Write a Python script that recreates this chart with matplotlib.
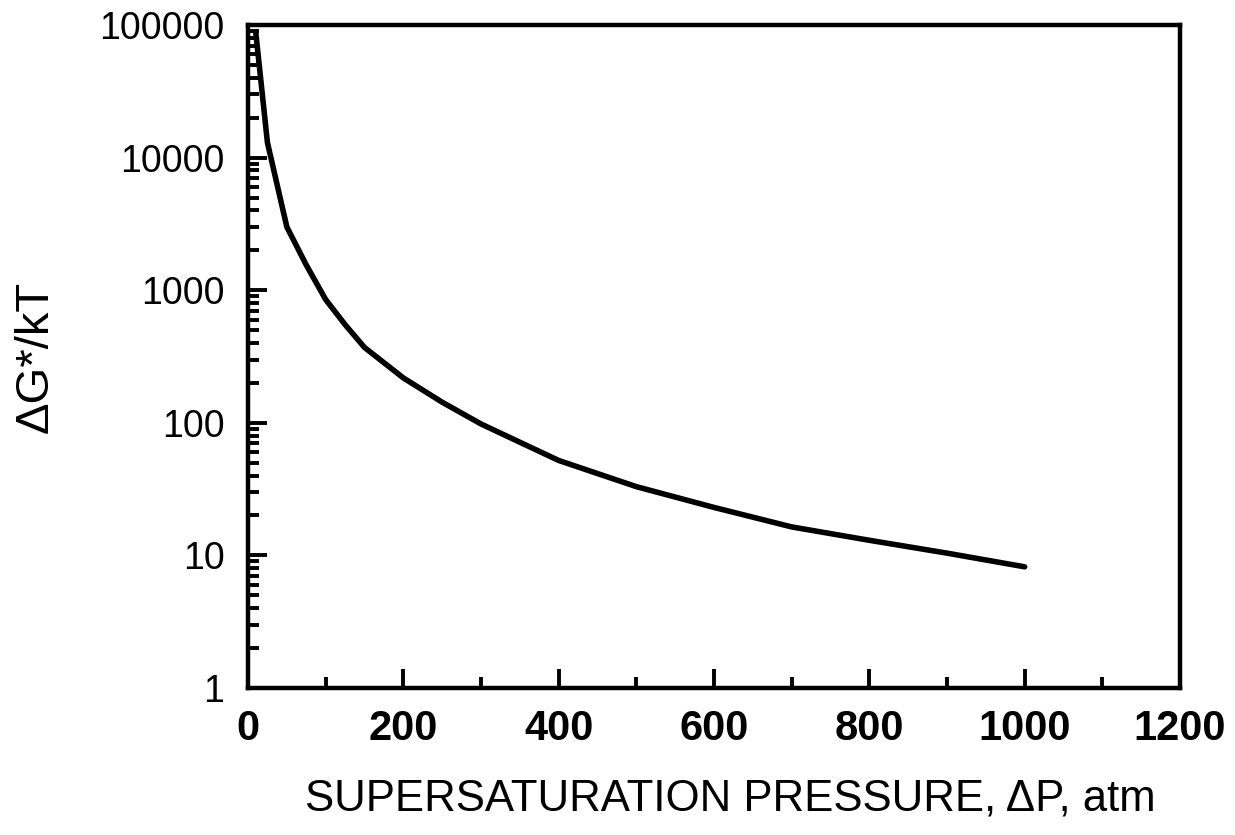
import matplotlib
matplotlib.use('Agg')
import matplotlib.pyplot as plt
from matplotlib.ticker import LogLocator, MultipleLocator, FixedLocator, FixedFormatter, NullFormatter

plt.rcParams['font.family'] = ['Liberation Sans', 'DejaVu Sans']

# supersaturation pressure (atm) vs nucleation barrier dG*/kT
pressure = [10, 25, 50, 75, 100, 125, 150, 200, 250, 300, 400, 500, 600, 700, 800, 900, 1000]
barrier = [88000, 13000, 3000, 1550, 850, 550, 370, 218, 143, 98, 52, 33, 23, 16.4, 13, 10.4, 8.2]

x_ticks = [0, 200, 400, 600, 800, 1000, 1200]
y_ticks = [1, 10, 100, 1000, 10000, 100000]
y_labels = ['1', '10', '100', '1000', '10000', '100000']

fig = plt.figure(figsize=(12.35, 8.35), dpi=100)
ax = fig.add_axes([248 / 1235, 1 - 688 / 835, (1180 - 248) / 1235, (688 - 25) / 835])

ax.plot(pressure, barrier, color='black', linewidth=4.0, solid_joinstyle='round',
        solid_capstyle='round')

ax.set_yscale('log')
ax.set_xlim(0, 1200)
ax.set_ylim(1, 100000)

ax.xaxis.set_major_locator(FixedLocator(x_ticks))
ax.xaxis.set_minor_locator(MultipleLocator(100))
ax.yaxis.set_major_locator(FixedLocator(y_ticks))
ax.yaxis.set_major_formatter(FixedFormatter(y_labels))
ax.yaxis.set_minor_locator(LogLocator(base=10, subs=range(2, 10), numticks=20))
ax.yaxis.set_minor_formatter(NullFormatter())

for s in ax.spines.values():
    s.set_linewidth(3.2)

ax.tick_params(axis='both', which='major', direction='in', length=14, width=2.8)
ax.tick_params(axis='both', which='minor', direction='in', length=8, width=2.8)
ax.tick_params(top=False, right=False, which='both')
ax.tick_params(axis='y', which='major', labelsize=27, pad=17)
ax.tick_params(axis='x', which='major', labelsize=30, pad=15)
for lb in ax.get_xticklabels():
    lb.set_fontweight('bold')

ax.set_xlabel('SUPERSATURATION PRESSURE, \u0394P, atm', fontsize=31.5)
ax.xaxis.set_label_coords((730 - 248) / (1180 - 248), -(779 - 688) / (688 - 25))
ax.set_ylabel('\u0394G*/kT', fontsize=34)
ax.yaxis.set_label_coords(-(248 - 58) / (1180 - 248), 0.5)

fig.savefig('out.png', dpi=100)
